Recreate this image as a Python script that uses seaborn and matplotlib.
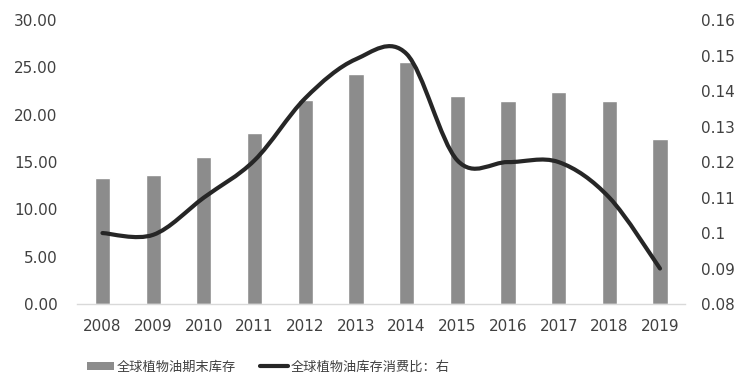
import numpy as np
import pandas as pd
import matplotlib
matplotlib.use("Agg")
import matplotlib.pyplot as plt
import seaborn as sns
from matplotlib.path import Path
from matplotlib.patches import PathPatch, Patch
from matplotlib.lines import Line2D
from matplotlib.ticker import FuncFormatter, MultipleLocator

# data
years = ["2008", "2009", "2010", "2011", "2012", "2013",
         "2014", "2015", "2016", "2017", "2018", "2019"]
stock = [13.3, 13.6, 15.5, 18.1, 21.6, 24.3, 25.6, 22.0, 21.5, 22.4, 21.5, 17.4]
ratio = [0.100, 0.0995, 0.110, 0.1205, 0.138, 0.149, 0.1505,
         0.1205, 0.120, 0.120, 0.110, 0.090]
bar_label = "全球植物油期末库存"
line_label = "全球植物油库存消费比：右"

bar_color = "#8c8c8c"
line_color = "#262626"

sns.set_theme(style="white")
plt.rcParams["font.family"] = ["DejaVu Sans", "Noto Sans CJK SC"]

df = pd.DataFrame({"year": years, "stock": stock})

fig = plt.figure(figsize=(7.49, 3.88), dpi=100)
ax = fig.add_axes([0.103, 0.2165, 0.812, 0.7315])

sns.barplot(data=df, x="year", y="stock", color=bar_color, width=0.3,
            saturation=1, ax=ax)
ax.set_xlim(-0.5, len(years) - 0.5)
ax.set_ylim(0, 30)
ax.yaxis.set_major_locator(MultipleLocator(5))
ax.yaxis.set_major_formatter(FuncFormatter(lambda v, p: f"{v:.2f}"))
ax.set_xlabel("")
ax.set_ylabel("")
for s in ["top", "left", "right"]:
    ax.spines[s].set_visible(False)
ax.spines["bottom"].set_color("#d9d9d9")
ax.spines["bottom"].set_linewidth(1)
ax.tick_params(axis="y", length=0, pad=14, labelsize=11, labelcolor="#404040")
ax.tick_params(axis="x", length=0, pad=11, labelsize=11, labelcolor="#404040")

# smoothed line on the right axis (Excel-style smooth curve through points)
ax2 = ax.twinx()
ax2.set_ylim(0.08, 0.16)
ax2.yaxis.set_major_locator(MultipleLocator(0.01))
ax2.yaxis.set_major_formatter(FuncFormatter(lambda v, p: f"{round(v, 4):g}"))
for s in ax2.spines.values():
    s.set_visible(False)
ax2.tick_params(axis="y", length=0, pad=11, labelsize=11, labelcolor="#404040")

xs = np.arange(len(years), dtype=float)
ys = np.array(ratio)
verts = [(xs[0], ys[0])]
codes = [Path.MOVETO]
n = len(xs)
for i in range(n - 1):
    p0 = (xs[max(i - 1, 0)], ys[max(i - 1, 0)])
    p1 = (xs[i], ys[i])
    p2 = (xs[i + 1], ys[i + 1])
    p3 = (xs[min(i + 2, n - 1)], ys[min(i + 2, n - 1)])
    c1 = (p1[0] + (p2[0] - p0[0]) / 6, p1[1] + (p2[1] - p0[1]) / 6)
    c2 = (p2[0] - (p3[0] - p1[0]) / 6, p2[1] - (p3[1] - p1[1]) / 6)
    verts += [c1, c2, p2]
    codes += [Path.CURVE4] * 3
ax2.add_patch(PathPatch(Path(verts, codes), facecolor="none",
                        edgecolor=line_color, linewidth=3, capstyle="round"))

handles = [Patch(facecolor=bar_color, edgecolor="none"),
           Line2D([0], [0], color=line_color, linewidth=3)]
fig.legend(handles, [bar_label, line_label], loc="center left",
           bbox_to_anchor=(0.1, 0.054), ncol=2, frameon=False,
           prop={"family": ["Noto Sans CJK SC"], "size": 9.5},
           handlelength=2.1, handleheight=0.5, handletextpad=0.2,
           columnspacing=1.8, labelcolor="#404040")

fig.savefig("out.png", dpi=100)
